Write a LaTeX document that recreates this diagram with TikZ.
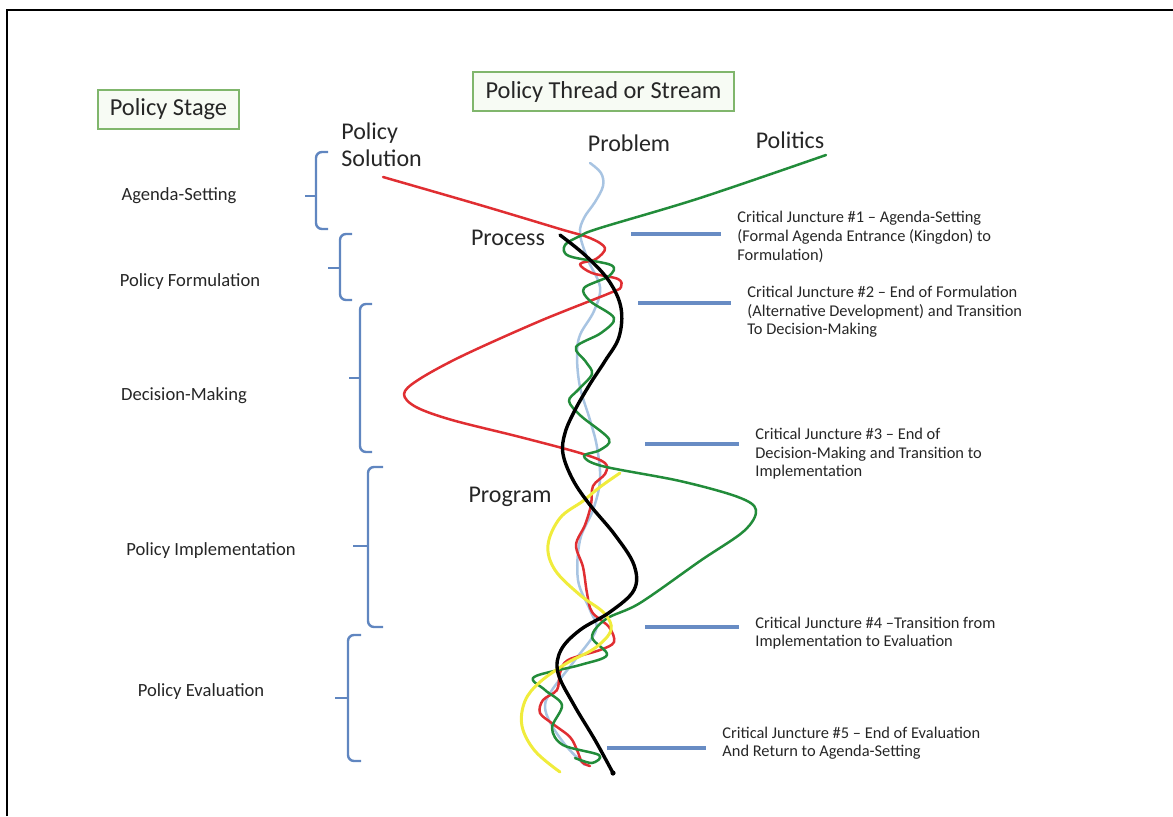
\documentclass[tikz,border=0pt]{standalone}
\usepackage{fontspec}
\setmainfont{Carlito}
\usetikzlibrary{positioning}

\definecolor{boxgreen}{RGB}{128,182,108}
\definecolor{boxfill}{RGB}{247,251,244}
\definecolor{braceblue}{RGB}{96,134,192}
\definecolor{juncblue}{RGB}{104,140,196}
\definecolor{probblue}{RGB}{168,196,226}
\definecolor{solred}{RGB}{224,46,50}
\definecolor{polgreen}{RGB}{34,140,58}
\definecolor{proyellow}{RGB}{240,236,60}
\definecolor{txt}{RGB}{38,38,38}

\begin{document}
\begin{tikzpicture}[x=0.5pt,y=-0.5pt,
        title/.style={draw=boxgreen,fill=boxfill,line width=1pt,text=txt,
          font=\fontsize{12.2}{14}\selectfont,minimum height=19.5pt},
        stage/.style={text=txt,font=\fontsize{9.3}{11}\selectfont},
        stream/.style={text=txt,font=\fontsize{12}{13.5}\selectfont},
        junctext/.style={text=txt,font=\fontsize{8.2}{9.3}\selectfont,
          align=left,anchor=west,inner sep=0pt},
        brace/.style={draw=braceblue,line width=1.2pt,rounded corners=3pt},
        juncture/.style={draw=juncblue,line width=2pt},
        thread/.style={line width=1.25pt,line cap=round,line join=round}]
        \useasboundingbox (0,0) rectangle (1173,816);
        \draw[line width=1.3pt] (7,816) -- (7,10) -- (1173,10);

        \node[title,minimum width=70.5pt] (PS) at (168.5,109.5) {Policy Stage};
        \node[title,minimum width=130.5pt] (PTS) at (603.5,91.5) {Policy Thread or Stream};

        \node[stage] (AS) at (179,196) {Agenda-Setting};
        \node[stage] (PF) at (190,282) {Policy Formulation};
        \node[stage] (DM) at (184,396) {Decision-Making};
        \node[stage] (PI) at (211,551) {Policy Implementation};
        \node[stage] (PE) at (201,692) {Policy Evaluation};

        \node[stream,align=left,anchor=west,inner sep=0pt] (SOL) at (341,145) {Policy\\Solution};
        \node[stream] (PROB) at (629,143) {Problem};
        \node[stream] (POL) at (790,140) {Politics};
        \node[stream] (PROC) at (508,238) {Process};
        \node[stream] (PROG) at (510,497) {Program};

        \draw[brace] (328,152) -- (316,152) -- (316,229) -- (328,229);
        \draw[brace] (316,196) -- (305,196);
        \draw[brace] (352,234) -- (340,234) -- (340,300) -- (352,300);
        \draw[brace] (340,268) -- (328,268);
        \draw[brace] (372,304) -- (360,304) -- (360,452) -- (372,452);
        \draw[brace] (360,378) -- (349,378);
        \draw[brace] (383,467) -- (368,467) -- (368,627) -- (383,627);
        \draw[brace] (368,546) -- (353,546);
        \draw[brace] (361,635) -- (348,635) -- (348,761) -- (361,761);
        \draw[brace] (348,698) -- (335,698);

        \node[junctext] (CJ1) at (737,237) {Critical Juncture \#1 -- Agenda-Setting\\(Formal Agenda Entrance (Kingdon) to\\Formulation)};
        \node[junctext] (CJ2) at (747,312) {Critical Juncture \#2 -- End of Formulation\\(Alternative Development) and Transition\\To Decision-Making};
        \node[junctext] (CJ3) at (755,454) {Critical Juncture \#3 -- End of\\Decision-Making and Transition to\\Implementation};
        \node[junctext] (CJ4) at (755,633) {Critical Juncture \#4 --Transition from\\Implementation to Evaluation};
        \node[junctext] (CJ5) at (722,743) {Critical Juncture \#5 -- End of Evaluation\\And Return to Agenda-Setting};

        \coordinate (J1) at (631,234);
        \coordinate (J2) at (638,303);
        \coordinate (J3) at (645,444);
        \coordinate (J4) at (645,627);
        \coordinate (J5) at (607,748);
        \draw[juncture] (J1) -- ([xshift=-8pt]CJ1.west |- J1);
        \draw[juncture] (J2) -- ([xshift=-8pt]CJ2.west |- J2);
        \draw[juncture] (J3) -- ([xshift=-8pt]CJ3.west |- J3);
        \draw[juncture] (J4) -- ([xshift=-8pt]CJ4.west |- J4);
        \draw[juncture] (J5) -- ([xshift=-8pt]CJ5.west |- J5);

        \draw[thread,probblue] plot[smooth,tension=0.6] coordinates {
          (590,163) (601,173) (603,186) (595,202) (584,218) (580,234) (588,260)
          (600,287) (594,311) (580,335) (577,356) (580,387) (590,420) (597,447)
          (600,480) (593,510) (580,540) (578,580) (590,610) (596,630) (575,660)
          (552,690) (545,706) (551,724) (567,747) (585,765)};

        \draw[thread,solred] plot[smooth,tension=0.55] coordinates {
          (383,177) (480,205) (560,229) (590,238) (605,248) (596,259) (580,264)
          (592,273) (618,279) (621,287) (610,293) (540,321) (462,356) (418,380)
          (404,394) (416,407) (452,420) (520,437) (580,453) (605,463) (605,474)
          (593,486) (591,505) (585,525) (576,545) (583,567) (587,593) (592,612)
          (609,627) (614,642) (600,650) (568,660) (560,673) (557,690) (543,700)
          (540,713) (553,724) (570,737) (577,750) (582,762) (590,766)};

        \draw[thread,polgreen] plot[smooth,tension=0.55] coordinates {
          (826,155) (700,198) (600,228) (580,236) (565,245) (569,256) (611,265)
          (609,276) (584,288) (590,301) (614,318) (601,333) (576,347) (586,362)
          (592,374) (578,390) (569,401) (581,416) (609,439) (600,450) (584,456)
          (602,466) (680,481) (738,497) (756,510) (744,531) (700,561) (640,603)
          (606,619) (592,637) (607,655) (580,665) (534,677) (545,690) (562,705)
          (552,728) (563,745) (599,755) (592,763) (575,758)};

        \draw[thread,proyellow,line width=1.5pt] plot[smooth,tension=0.6] coordinates {
          (620,473) (600,487) (583,501) (560,518) (548,545) (555,570) (580,595)
          (604,613) (611,630) (595,648) (567,663) (540,682) (525,701) (522,726)
          (535,751) (560,772)};

        \draw[thread,black,line width=1.7pt] plot[smooth,tension=0.6] coordinates {
          (560,235) (586,256) (609,281) (621,308) (619,337) (605,361) (590,384)
          (575,410) (565,433) (563,454) (573,480) (590,505) (615,535) (634,565)
          (634,590) (610,612) (580,630) (561,650) (558,673) (574,705) (595,740)
          (613,773)};
        \fill (613,773) circle (1.3pt);
      \end{tikzpicture}
\end{document}
